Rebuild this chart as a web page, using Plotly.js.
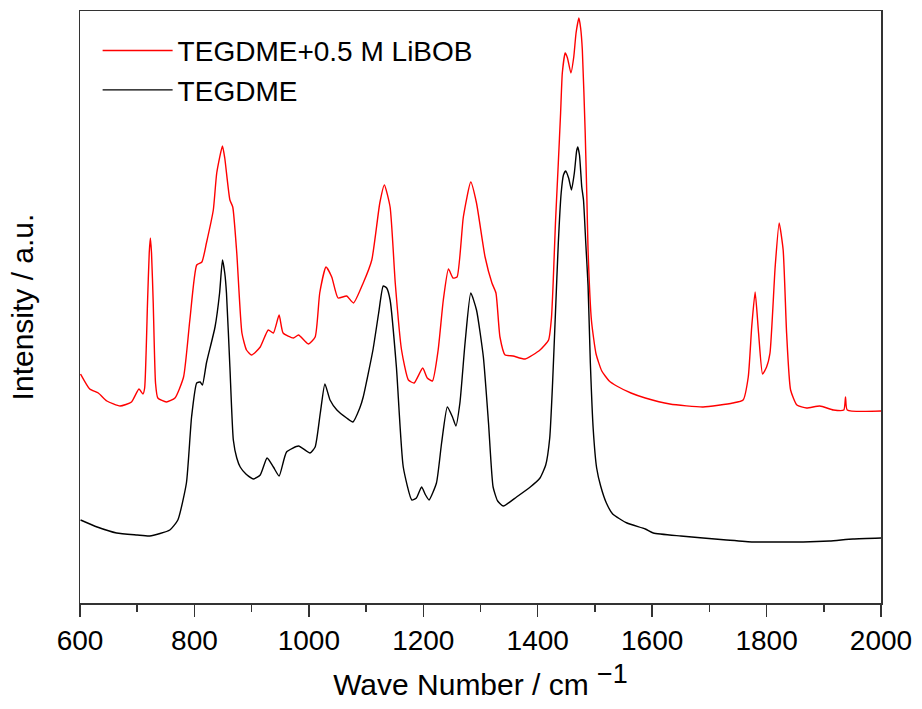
<!DOCTYPE html>
<html>
<head>
<meta charset="utf-8">
<script src="https://cdn.plot.ly/plotly-3.0.1.min.js"></script>
<style>html,body{margin:0;padding:0;background:#fff;}#chart{width:922px;height:709px;}</style>
</head>
<body>
<div id="chart"></div>
<script>
// TEGDME (black) spectrum: wave number (cm^-1) and relative intensity (a.u.)
var wnTEGDME = [601,630,664,700,722,757,771,786,795,804,810,814,821,836,844,849,853,856,862,868,874,880,890,903,915,927,938,948,961,982,1002,1011,1020,1028,1037,1049,1066,1077,1089,1095,1112,1122,1130,1136,1142,1153,1165,1180,1188,1197,1204,1210,1223,1232,1242,1251,1257,1264,1273,1283,1293,1305,1314,1322,1330,1340,1363,1387,1404,1414,1421,1426,1431,1436,1441,1445,1449,1454,1459,1464,1468,1470,1473,1477,1480,1484,1488,1492,1497,1503,1510,1520,1531,1556,1588,1602,1650,1689,1730,1776,1820,1864,1910,1951,2000];
var intTEGDME = [83,76,70,68,67,73,83,120,186,220,221,218,240,276,310,343,330,310,236,163,145,136,129,124,128,145,136,127,151,157,150,156,190,219,203,193,185,181,195,206,253,290,317,315,303,236,136,103,105,116,108,103,120,160,196,186,177,200,260,310,293,246,180,116,102,97,106,116,125,138,165,220,290,360,410,428,432,425,413,430,452,456,448,416,403,360,317,240,174,135,117,100,89,80,74,70,67,65,63,61,61,61,62,64,65];

// TEGDME + 0.5 M LiBOB (red) spectrum
var wnLiBOB = [601,617,632,647,670,690,703,710,713,718,721,723,725,728,732,736,751,766,781,792,804,813,821,833,839,849,853,862,867,874,883,891,900,915,929,938,948,955,973,982,999,1011,1019,1030,1040,1051,1066,1078,1095,1110,1124,1132,1142,1151,1162,1174,1184,1199,1207,1216,1226,1235,1244,1252,1259,1270,1283,1293,1308,1320,1327,1334,1343,1357,1378,1404,1419,1424,1427,1431,1436,1440,1443,1448,1452,1458,1463,1467,1472,1475,1478,1483,1486,1488,1494,1502,1512,1525,1538,1563,1588,1631,1689,1741,1759,1768,1774,1780,1786,1793,1800,1806,1815,1822,1829,1835,1842,1853,1870,1893,1917,1935,1938,1941,2000];
var intLiBOB = [229,214,210,202,197,201,214,209,215,300,350,365,350,300,220,205,201,205,226,283,338,341,360,393,430,457,445,403,396,350,270,253,248,256,273,270,288,270,265,268,259,266,310,336,326,305,307,300,320,343,400,418,396,320,253,223,220,235,225,222,253,303,334,325,326,386,421,400,346,320,310,266,248,247,244,253,263,285,320,380,440,490,530,550,545,530,546,570,585,575,553,470,403,353,282,249,232,222,217,210,205,199,196,200,203,226,276,311,270,229,236,250,336,380,353,270,213,198,195,197,193,193,206,193,192];

var seriesNames = ['TEGDME+0.5 M LiBOB', 'TEGDME'];
var xTickVals = [600,800,1000,1200,1400,1600,1800,2000];

var FONT = 'Arial, "Liberation Sans", sans-serif';

var traces = [
  {x: wnLiBOB, y: intLiBOB, type: 'scatter', mode: 'lines', name: seriesNames[0],
   line: {color: '#ff0000', width: 1.4, shape: 'spline', smoothing: 0.5}},
  {x: wnTEGDME, y: intTEGDME, type: 'scatter', mode: 'lines', name: seriesNames[1],
   line: {color: '#000000', width: 1.4, shape: 'spline', smoothing: 0.5}}
];

var layout = {
  width: 922, height: 709,
  margin: {l: 80, r: 41, t: 11, b: 106, pad: 0},
  paper_bgcolor: '#ffffff', plot_bgcolor: '#ffffff',
  font: {family: FONT, color: '#000'},
  showlegend: true,
  legend: {x: 0.022, y: 0.975, xanchor: 'left', yanchor: 'top', bgcolor: 'rgba(0,0,0,0)',
           font: {family: FONT, size: 28, color: '#000'}, itemwidth: 70, tracegroupgap: 0},
  xaxis: {
    range: [600, 2000], tickvals: xTickVals, ticktext: xTickVals.map(String),
    ticks: 'outside', ticklen: 12, tickwidth: 1.5, tickcolor: '#333',
    minor: {dtick: 100, ticks: 'outside', ticklen: 7, tickwidth: 1.5, tickcolor: '#333'},
    showline: true, linecolor: '#333', linewidth: 1.5, mirror: true,
    showgrid: false, zeroline: false,
    tickfont: {family: FONT, size: 28, color: '#000'},
    title: {text: 'Wave Number / cm <sup><span style="font-size:27px">\u22121</span></sup>',
            font: {family: FONT, size: 30, color: '#000'}, standoff: 19}
  },
  yaxis: {
    range: [0, 592], showticklabels: false, ticks: '',
    showline: true, linecolor: '#333', linewidth: 1.5, mirror: true,
    showgrid: false, zeroline: false,
    title: {text: 'Intensity / a.u.', font: {family: FONT, size: 30, color: '#000'}, standoff: 36}
  }
};

Plotly.newPlot('chart', traces, layout, {staticPlot: true, displayModeBar: false});
</script>
</body>
</html>
